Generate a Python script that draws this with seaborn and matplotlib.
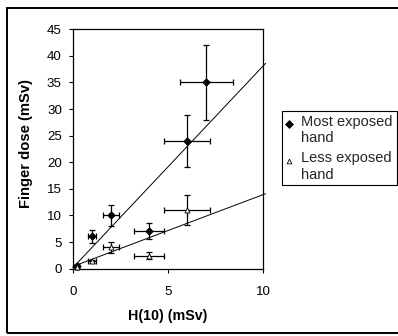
import numpy as np
import pandas as pd
import matplotlib
matplotlib.use("Agg")
import matplotlib.pyplot as plt
from matplotlib.lines import Line2D
from matplotlib.patches import Rectangle
from matplotlib.legend_handler import HandlerLine2D
import seaborn as sns

# ---- data ----
most_x = [0.2, 1, 2, 4, 6, 7]
most_y = [0.6, 6.1, 10, 7.1, 24, 35]
most_xerr = [0.04, 0.2, 0.4, 0.8, 1.2, 1.4]
most_yerr = [0.3, 1.2, 2.0, 1.5, 4.8, 7.0]

less_x = [0.2, 1, 2, 4, 6]
less_y = [0.3, 1.4, 4.0, 2.45, 11]
less_xerr = [0.04, 0.2, 0.4, 0.8, 1.2]
less_yerr = [0.1, 0.3, 1.0, 0.6, 2.8]

fit_x = [0.0, 10.12]
most_fit_y = [0.2, 38.6]
less_fit_y = [0.43, 14.1]

labels = ["Most exposed\nhand", "Less exposed\nhand"]
x_ticks = [0, 5, 10]
y_ticks = [0, 5, 10, 15, 20, 25, 30, 35, 40, 45]

# ---- style ----
sns.set_style("white")
plt.rcParams['font.family'] = ['Liberation Sans', 'DejaVu Sans']

fig = plt.figure(figsize=(3.98, 3.36), dpi=100)
ax = fig.add_axes([0.1834, 0.2003, 0.4781, 0.7125])

df_most = pd.DataFrame({"x": most_x, "y": most_y})
df_less = pd.DataFrame({"x": less_x, "y": less_y})
df_fit = pd.DataFrame({"x": fit_x * 2,
                       "y": most_fit_y + less_fit_y,
                       "series": ["most"] * 2 + ["less"] * 2})

# trend lines
sns.lineplot(data=df_fit, x="x", y="y", units="series", estimator=None,
             color="black", lw=0.7, ax=ax, legend=False, clip_on=False, sort=False)

# error bars
ax.errorbar(most_x, most_y, xerr=most_xerr, yerr=most_yerr, fmt="none",
            ecolor="black", elinewidth=0.9, capsize=2, capthick=0.9, clip_on=False, zorder=3)
ax.errorbar(less_x, less_y, xerr=less_xerr, yerr=less_yerr, fmt="none",
            ecolor="black", elinewidth=0.9, capsize=2, capthick=0.9, clip_on=False, zorder=3)

# markers
sns.scatterplot(data=df_most, x="x", y="y", marker="D", s=15, color="black",
                edgecolor="black", linewidth=0.5, ax=ax, zorder=4, clip_on=False, legend=False)
sns.scatterplot(data=df_less, x="x", y="y", marker="^", s=13, color="white",
                edgecolor="black", linewidth=0.6, ax=ax, zorder=4, clip_on=False, legend=False)

ax.set_xlim(0, 10)
ax.set_ylim(0, 45)
ax.set_xticks(x_ticks)
ax.set_yticks(y_ticks)
ax.tick_params(axis="both", which="major", direction="out", length=3, width=0.8,
               color="black", labelsize=9.6, labelcolor="black", bottom=True, left=True)
ax.tick_params(axis="y", pad=5.0)
ax.tick_params(axis="x", pad=9.5)
for s in ax.spines.values():
    s.set_color("black")
    s.set_linewidth(0.9)
    s.set_visible(True)

ax.set_xlabel("H(10) (mSv)", fontsize=10.3, fontweight="bold", color="black")
ax.set_ylabel("Finger dose (mSv)", fontsize=10.6, fontweight="bold", color="black")
ax.xaxis.set_label_coords(0.5, -0.168)
ax.yaxis.set_label_coords(-0.21, 0.525)


class FirstLineHandler(HandlerLine2D):
    """Place the legend marker level with the first line of a two-line label."""
    def __init__(self, lift=9.0, **kw):
        super().__init__(**kw)
        self.lift = lift

    def create_artists(self, legend, orig_handle, xdescent, ydescent, width, height,
                       fontsize, trans):
        return super().create_artists(legend, orig_handle, xdescent, ydescent - self.lift,
                                      width, height, fontsize, trans)


handles = [
    Line2D([], [], ls="none", marker="D", ms=3.7, mfc="black", mec="black", mew=0.5),
    Line2D([], [], ls="none", marker="^", ms=3.4, mfc="white", mec="black", mew=0.6),
]
leg = fig.legend(handles, labels, loc="upper left", bbox_to_anchor=(0.7078, 0.6696),
                 bbox_transform=fig.transFigure, borderaxespad=0, fontsize=10.5,
                 frameon=True, fancybox=False, framealpha=1, edgecolor="black",
                 handlelength=0.5, handletextpad=0.6, borderpad=0.25, labelspacing=0.45,
                 handler_map={Line2D: FirstLineHandler(lift=9.0)})
leg.get_frame().set_linewidth(0.8)

# outer chart border
fig.patches.append(Rectangle((7 / 398, 3 / 336), 1.0, 325 / 336, transform=fig.transFigure,
                             fill=False, edgecolor="black", lw=1.4, clip_on=False))

fig.savefig("out.png", dpi=100)
